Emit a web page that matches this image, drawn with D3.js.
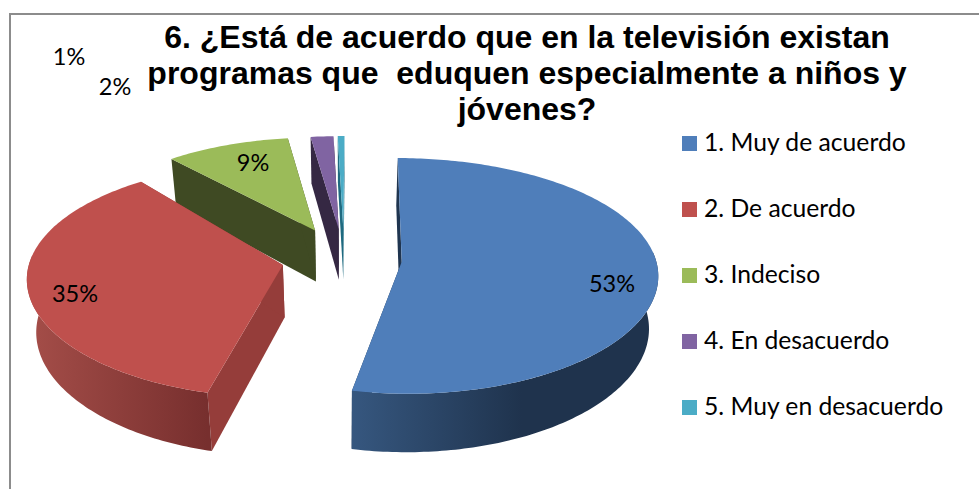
<!DOCTYPE html>
<html><head><meta charset="utf-8">
<script src="https://cdnjs.cloudflare.com/ajax/libs/d3/7.8.5/d3.min.js"></script>
<style>html,body{margin:0;padding:0;background:#fff}svg{display:block}</style>
</head><body><svg id="c" width="979" height="489"></svg>
<script>
const titleLines = ["6. ¿Está de acuerdo que en la televisión existan","programas que  eduquen especialmente a niños y","jóvenes?"];
const categories = ["1. Muy de acuerdo","2. De acuerdo","3. Indeciso","4. En desacuerdo","5. Muy en desacuerdo"];
const values = [53.1,35.4,9.3,1.7,0.5];
const topColors = ["#4f7eba","#bf504d","#9bbb59","#8064a2","#4bacc6"];
const cutColors = ["#1f3550","#953d3a","#3f4a23","#352843","#1f6a80"];
const wallLight = ["#36577f","#a54e49","#55642f","#4a3a5e","#2a7f95"];
const wallDark  = ["#1f334d","#772f2e","#3f4a23","#352843","#1f6a80"];
const explodes = [0.228,0.245,0.28,0.27,0.27];
const radii = [1,0.995,0.95,0.95,0.95];
const turns = [0,2.7,-0.3,0,0];
const labelPos = [[612,284],[75,294],[253,163],[115,87],[69,57]];

const svg = d3.select("#c");
svg.append("path").attr("d","M10,489V14H979").attr("fill","none").attr("stroke","#8c8c8c").attr("stroke-width",2);

const startDeg = 0.3, f = 254, g = 115.5, p = 0.12, cx = 344, cy = 259, depth = 52.3, q = 0.03, k = 0.103;
const rad = Math.PI/180;
const pie = d3.pie().sort(null).value(d=>d).startAngle(startDeg*rad).endAngle((startDeg+360)*rad);
const arcs = pie(values);
const proj = (wx,wy,z)=>[cx+f*wx/(1+0.1*wy+q*z), cy-g*wy/(1+p*wy)+depth*z/(1+k*wy)];
const line = d3.line();
const defs = svg.append("defs");
const gSl = svg.append("g");
const drawOrder = [4,3,2,0,1];
drawOrder.forEach(i=>{
  const a0=arcs[i].startAngle+turns[i]*rad, a1=arcs[i].endAngle+turns[i]*rad, mid=(a0+a1)/2, e=explodes[i], r=radii[i];
  const ox = e*Math.sin(mid), oy = e*Math.cos(mid);
  const sample = (s,t)=>{ const n=Math.max(4,Math.ceil((t-s)*60)); return d3.range(n+1).map(j=>s+(t-s)*j/n); };
  const angs = sample(a0,a1);
  const P = (an,z)=>proj(ox+r*Math.sin(an),oy+r*Math.cos(an),z);
  const C = z=>proj(ox,oy,z);
  const g0=gSl.append("g");
  [a0,a1].forEach(an=>{
    g0.append("path").attr("d",line([C(0),P(an,0),P(an,1),C(1)])+"Z").attr("fill",cutColors[i]);
  });
  const w0=Math.max(a0,85*rad), w1=Math.min(a1,275*rad);
  if(w1>w0){
    const wa=sample(w0,w1);
    const xs=wa.map(an=>P(an,0)[0]);
    const range = i===0?[P(w1,0)[0],P(w1,0)[0]+170]:[d3.min(xs),P(w0,0)[0]];
    const gid="w"+i;
    const lg=defs.append("linearGradient").attr("id",gid).attr("gradientUnits","userSpaceOnUse")
      .attr("x1",range[0]).attr("x2",range[1]).attr("y1",0).attr("y2",0);
    lg.append("stop").attr("offset",0).attr("stop-color",wallLight[i]);
    lg.append("stop").attr("offset",1).attr("stop-color",wallDark[i]);
    g0.append("path").attr("d",line([...wa.map(an=>P(an,0)),...wa.slice().reverse().map(an=>P(an,1))])+"Z").attr("fill",`url(#${gid})`);
  }
  g0.append("path").attr("d",line([C(0),...angs.map(an=>P(an,0))])+"Z").attr("fill",topColors[i]);
});

const font="Lato, 'Open Sans', sans-serif";
svg.append("g").selectAll("text").data(values).join("text")
  .attr("x",(d,i)=>labelPos[i][0]).attr("y",(d,i)=>labelPos[i][1]+8)
  .attr("text-anchor","middle").attr("font-family",font).attr("font-size",23.5).attr("fill","#000").text(d=>Math.round(d)+"%");

svg.append("g").selectAll("text").data(titleLines).join("text")
  .attr("x",527).attr("y",(d,i)=>48+i*36).attr("text-anchor","middle")
  .attr("font-family","'Liberation Sans',Arial,sans-serif").attr("font-weight","bold").attr("font-size",32).attr("fill","#000")
  .style("white-space","pre").text(d=>d);

const yLeg = d3.scalePoint().domain(categories).range([151,415]);
const leg = svg.append("g").selectAll("g").data(categories).join("g").attr("transform",d=>`translate(682,${yLeg(d)})`);
leg.append("rect").attr("x",0).attr("y",-15).attr("width",15).attr("height",15).attr("fill",(d,i)=>topColors[i]);
leg.append("text").attr("x",22).attr("y",0).attr("font-family",font).attr("font-size",24.7).attr("fill","#000").text(d=>d);
</script></body></html>
